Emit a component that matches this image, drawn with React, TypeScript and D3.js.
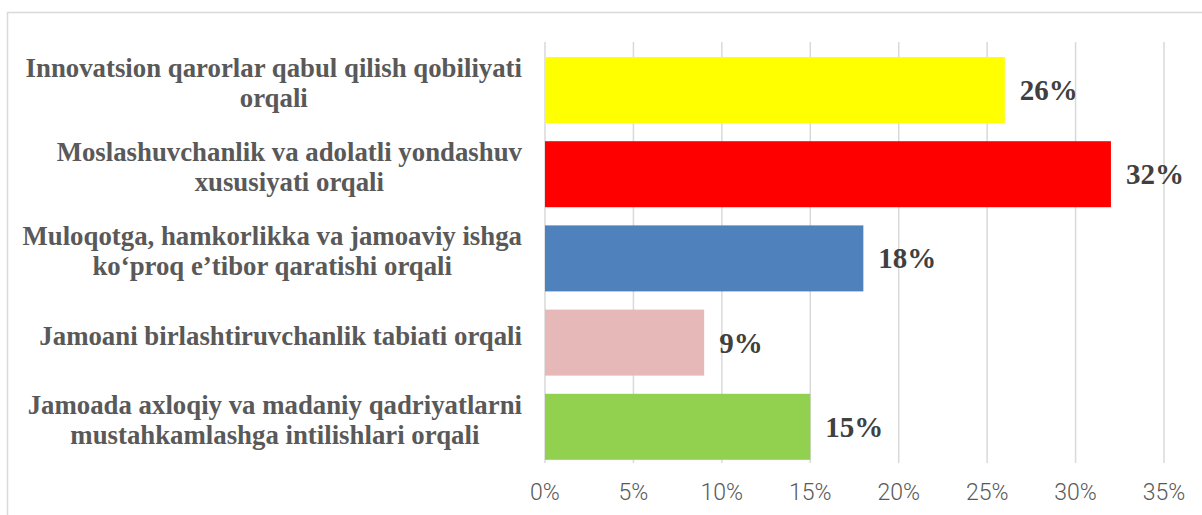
import React, { useEffect, useRef } from 'react';
import * as d3 from 'd3';

const categories = [
  ['Innovatsion qarorlar qabul qilish qobiliyati', 'orqali'],
  ['Moslashuvchanlik va adolatli yondashuv', 'xususiyati orqali'],
  ['Muloqotga, hamkorlikka va jamoaviy ishga', 'ko‘proq e’tibor qaratishi orqali'],
  ['Jamoani birlashtiruvchanlik tabiati orqali'],
  ['Jamoada axloqiy va madaniy qadriyatlarni', 'mustahkamlashga intilishlari orqali'],
];
const values = [26, 32, 18, 9, 15];
const barColors = ['#FFFF00', '#FF0000', '#4F81BD', '#E6B9B8', '#92D050'];
const ticks = [0, 5, 10, 15, 20, 25, 30, 35];

const App = () => {
  const svgRef = useRef<SVGSVGElement>(null);

  useEffect(() => {
    const width = 1202;
    const height = 515;
    const svg = d3.select(svgRef.current);
    svg.selectAll('*').remove();
    svg.attr('width', width).attr('height', height);

    const gridTop = 42;
    const gridBottom = 463;

    const x = d3.scaleLinear().domain([0, 35]).range([545, 1164]);
    const keys = categories.map((c, i) => String(i));
    const y = d3.scaleBand().domain(keys).range([47.9, 468.9]).paddingInner(0.216).paddingOuter(0.108);

    // chart border
    svg.append('rect')
      .attr('x', 7.5).attr('y', 12.5)
      .attr('width', 1220).attr('height', 540)
      .attr('fill', 'white')
      .attr('stroke', '#d9d9d9').attr('stroke-width', 1.5);

    // gridlines
    svg.append('g').selectAll('line')
      .data(ticks)
      .enter()
      .append('line')
      .attr('x1', d => x(d)).attr('x2', d => x(d))
      .attr('y1', gridTop).attr('y2', gridBottom)
      .attr('stroke', '#d9d9d9').attr('stroke-width', 1.5);

    // bars
    svg.append('g').selectAll('rect')
      .data(values)
      .enter()
      .append('rect')
      .attr('x', x(0))
      .attr('y', (d, i) => y(keys[i])!)
      .attr('width', d => x(d) - x(0))
      .attr('height', y.bandwidth())
      .attr('fill', (d, i) => barColors[i]);

    // value labels
    svg.append('g').selectAll('text')
      .data(values)
      .enter()
      .append('text')
      .attr('x', d => x(d) + 15)
      .attr('y', (d, i) => y(keys[i])! + y.bandwidth() / 2 + 10)
      .style('font-family', '"Liberation Serif", "Times New Roman", serif')
      .style('font-weight', 'bold')
      .style('font-size', '29px')
      .style('fill', '#404040')
      .text(d => `${d}%`);

    // tick labels
    svg.append('g').selectAll('text')
      .data(ticks)
      .enter()
      .append('text')
      .attr('x', d => x(d))
      .attr('y', 500)
      .attr('text-anchor', 'middle')
      .style('font-family', 'Roboto, sans-serif')
      .style('font-weight', 300)
      .style('font-size', '23px')
      .style('fill', '#595959')
      .text(d => `${d}%`);

    // category labels: block right-aligned against the axis, lines centred
    const rightEdge = 522;
    const lineH = 30;
    categories.forEach((lines, i) => {
      const cy = y(keys[i])! + y.bandwidth() / 2;
      const g = svg.append('g');
      const texts = lines.map((line, j) =>
        g.append('text')
          .attr('y', cy + (j - (lines.length - 1) / 2) * lineH + 2)
          .attr('text-anchor', 'middle')
          .style('font-family', '"Liberation Serif", "Times New Roman", serif')
          .style('font-weight', 'bold')
          .style('font-size', '26.8px')
          .style('fill', '#595959')
          .text(line)
      );
      const maxW = d3.max(texts, t => (t.node() as SVGTextElement).getComputedTextLength()) || 0;
      texts.forEach(t => t.attr('x', rightEdge - maxW / 2));
    });
  }, []);

  return (
    <svg ref={svgRef} style={{ position: 'absolute', left: 0, top: 0, display: 'block' }}></svg>
  );
};

export default App;
